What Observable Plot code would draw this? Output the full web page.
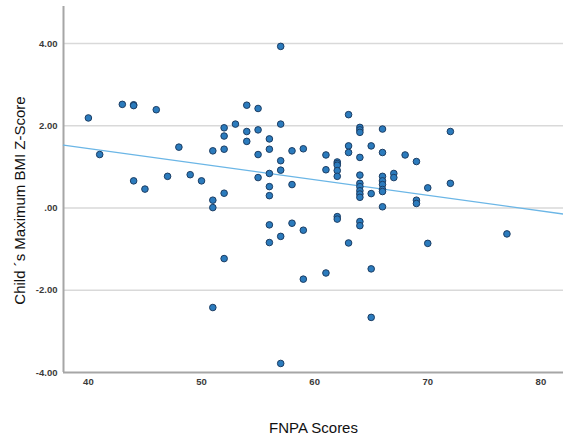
<!DOCTYPE html>
<html>
<head>
<meta charset="utf-8">
<script src="https://cdn.jsdelivr.net/npm/d3@7"></script>
<script src="https://cdn.jsdelivr.net/npm/@observablehq/plot@0.6"></script>
<style>
  html, body { margin: 0; padding: 0; background: #fff; }
  #chart { width: 563px; height: 438px; }
</style>
</head>
<body>
<div id="chart"></div>
<script>
// FNPA score (x) and child's maximum BMI z-score (y)
const fnpa = [
  40, 41, 43, 44, 44, 44, 45, 46, 47, 48, 49, 50,
  51, 51, 51, 51,
  52, 52, 52, 52, 52,
  53,
  54, 54, 54,
  55, 55, 55, 55,
  56, 56, 56, 56, 56, 56, 56,
  57, 57, 57, 57, 57, 57,
  58, 58, 58,
  59, 59, 59,
  61, 61, 61,
  62, 62, 62, 62, 62, 62, 62,
  63, 63, 63, 63,
  64, 64, 64, 64, 64, 64, 64, 64, 64, 64, 64, 64,
  65, 65, 65, 65,
  66, 66, 66, 66, 66, 66, 66, 66,
  67, 67,
  68,
  69, 69, 69,
  70, 70,
  72, 72,
  77
];
const bmiZ = [
  2.19, 1.30, 2.52, 2.51, 2.49, 0.66, 0.46, 2.39, 0.77, 1.48, 0.81, 0.66,
  1.39, 0.19, 0.01, -2.42,
  1.95, 1.75, 1.43, 0.36, -1.23,
  2.04,
  2.50, 1.86, 1.62,
  2.42, 1.90, 1.30, 0.74,
  1.68, 1.43, 0.84, 0.52, 0.30, -0.41, -0.84,
  3.93, 2.04, 1.15, 0.92, -0.69, -3.78,
  1.39, 0.57, -0.37,
  1.44, -0.54, -1.73,
  1.29, 0.93, -1.58,
  1.12, 1.08, 1.04, 0.91, 0.77, -0.21, -0.27,
  2.27, 1.51, 1.35, -0.85,
  1.96, 1.90, 1.84, 1.23, 0.80, 0.60, 0.52, 0.42, 0.34, 0.26, -0.33, -0.43,
  1.51, 0.35, -1.48, -2.66,
  1.92, 1.35, 0.77, 0.66, 0.57, 0.45, 0.40, 0.03,
  0.84, 0.74,
  1.29,
  1.13, 0.19, 0.11,
  0.49, -0.86,
  1.86, 0.60,
  -0.63
];

// Fit line
const fitIntercept = 2.96;
const fitSlope = -0.0379;

// Axes
const xDomain = [37.8, 82.0];
const yDomain = [-4, 4.9];
const xTicks = [40, 50, 60, 70, 80];
const yTicks = [-4, -2, 0, 2, 4];
const yTickLabels = ["-4.00", "-2.00", ".00", "2.00", "4.00"];
const xTitle = "FNPA Scores";
const yTitle = "Child \u00b4s Maximum BMI Z-Score";

const points = fnpa.map((x, i) => ({x, y: bmiZ[i]}));
const fitLine = xDomain.map(x => ({x, y: fitIntercept + fitSlope * x}));
const gridValues = yTicks.filter(v => v > yDomain[0]);

const chart = Plot.plot({
  width: 563,
  height: 438,
  marginLeft: 63,
  marginRight: 0,
  marginTop: 6,
  marginBottom: 66,
  style: {fontFamily: "'Liberation Sans', Arial, sans-serif", background: "#fff", overflow: "visible"},
  x: {domain: xDomain},
  y: {domain: yDomain},
  marks: [
    Plot.ruleY(gridValues, {stroke: "#d9d9d9", strokeWidth: 1.5}),
    Plot.ruleX([xDomain[0]], {stroke: "#a6a6a6", strokeWidth: 2}),
    Plot.ruleY([yDomain[0]], {stroke: "#a6a6a6", strokeWidth: 2}),
    Plot.axisY({
      ticks: yTicks,
      tickFormat: (d) => yTickLabels[yTicks.indexOf(d)],
      tickSize: 0,
      tickPadding: 6,
      fontSize: 9.5,
      fontWeight: "bold",
      fill: "#3a3a3a",
      label: null
    }),
    Plot.axisX({
      ticks: xTicks,
      tickFormat: (d) => String(d),
      tickSize: 0,
      tickPadding: 6,
      fontSize: 9.5,
      fontWeight: "bold",
      fill: "#3a3a3a",
      label: null
    }),
    Plot.line(fitLine, {x: "x", y: "y", stroke: "#6bb6e6", strokeWidth: 1.3}),
    Plot.dot(points, {x: "x", y: "y", r: 3.3, fill: "#2b7bbd", stroke: "#1c3d63", strokeWidth: 1}),
    Plot.text([xTitle], {frameAnchor: "bottom", dy: 60, fontSize: 15, fill: "#111"}),
    Plot.text([yTitle], {frameAnchor: "left", textAnchor: "middle", lineAnchor: "middle", rotate: -90, dx: -43, dy: 11, fontSize: 15, fill: "#111"})
  ]
});
document.getElementById("chart").appendChild(chart);
</script>
</body>
</html>
